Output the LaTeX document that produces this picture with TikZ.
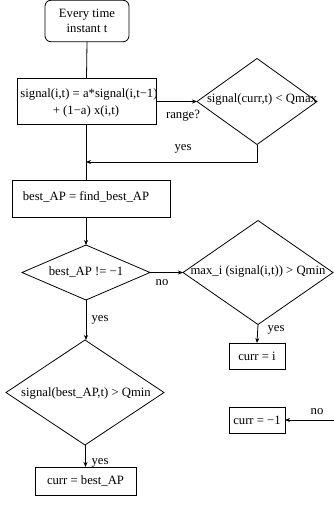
\documentclass[tikz,border=0pt]{standalone}
\usepackage{fontspec}
\setmainfont{Liberation Serif}
\usetikzlibrary{shapes.geometric,arrows.meta}
\begin{document}
\begin{tikzpicture}[x=1pt,y=-1pt,
  every node/.style={font=\fontsize{12.7}{15}\selectfont, inner sep=0pt, outer sep=0pt},
  line/.style={line width=0.8pt},
  arr/.style={line, -{Stealth[length=5pt,width=4pt,inset=1.5pt]}},
  stepbox/.style={draw, line width=0.8pt, rectangle},
  decision/.style={draw, line width=0.8pt, diamond},
  lbl/.style={font=\fontsize{12.7}{15}\selectfont}]
\useasboundingbox (0,0) rectangle (334,511);

% start of every time step
\node[stepbox, rounded corners=6pt, minimum width=84pt, minimum height=41.5pt,
      align=center] (start) at (87,21) {Every time\\instant t};

% smoothed signal update
\node[stepbox, minimum width=139pt, minimum height=46pt] (sig) at (86.5,101.5) {};
\node[align=center, font=\fontsize{12.7}{17}\selectfont] (sigtxt) at (89,103)
  {signal(i,t) = a*signal(i,t−1)\\\hspace*{-6pt}+ (1−a) x(i,t)};

% is the current AP still good enough?
\node[decision, minimum width=120pt, minimum height=86pt] (d1) at (257,101.5) {};
\node (d1txt) at (262,99) {signal(curr,t) < Qmax};

% best access point
\node[stepbox, minimum width=158pt, minimum height=37pt] (bap) at (91,198.5) {};
\node (baptxt) at (86,197) {best\_AP = find\_best\_AP};

% was a best AP found?
\node[decision, minimum width=128pt, minimum height=55pt] (d2) at (86,272.5) {};
\node (d2txt) at (86,272) {best\_AP != −1};

% any AP strong enough?
\node[decision, minimum width=150pt, minimum height=104pt] (d3) at (258,272.5) {};
\node (d3txt) at (258,271) {max\_i (signal(i,t)) > Qmin};

% best AP strong enough?
\node[decision, minimum width=158pt, minimum height=105pt] (d4) at (85,392.5) {};
\node (d4txt) at (86,393) {signal(best\_AP,t) > Qmin};

% assignments
\node[stepbox, minimum width=56pt, minimum height=26pt] (ci) at (257,356) {curr = i};
\node[stepbox, minimum width=56pt, minimum height=26pt] (cm) at (257,420) {curr = −1};
\node[stepbox, minimum width=101pt, minimum height=28pt] (cb) at (85.5,481) {curr = best\_AP};

% connectors
\coordinate (join) at (86,162);
\coordinate (farright) at (334,420);

\draw[line] (start.south) -- (sig.north);
\draw[arr] (sig.east |- d1.west) -- (d1.west);
\node[lbl] (lrange) at (183,116) {range?};
\draw[arr] (d1.south) |- (join);
\node[lbl] (lyes1) at (183,149) {yes};
\draw[line] (sig.south) -- (sig.south |- bap.north);
\draw[arr] (bap.south -| d2.north) -- (d2.north);
\draw[arr] (d2.east) -- (d3.west);
\node[lbl] (lno1) at (162,283) {no};
\draw[arr] (d2.south) -- (d2.south |- d4.north);
\node[lbl] (lyes2) at (100,320) {yes};
\draw[arr] (d3.south) -- (ci.north);
\node[lbl] (lyes3) at (276,330) {yes};
\draw[arr] (d4.south -| cb.north) -- (cb.north);
\node[lbl] (lyes4) at (100,463) {yes};
\draw[arr] (farright) -- (cm.east);
\node[lbl] (lno2) at (317,412) {no};
\end{tikzpicture}
\end{document}
